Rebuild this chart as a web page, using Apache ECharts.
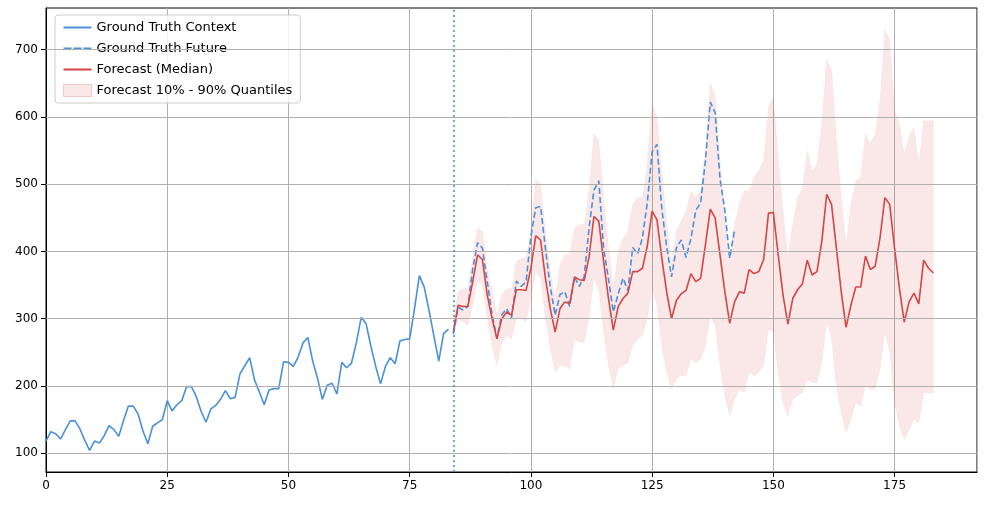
<!DOCTYPE html><html><head><meta charset="utf-8"><script src="https://cdn.jsdelivr.net/npm/echarts@6/dist/echarts.min.js"></script></head><body style="margin:0"><div id="c" style="width:986px;height:505px"></div><script>
const context=[118,132,129,121,135,148,148,136,119,104,118,115,126,141,135,125,149,170,170,158,133,114,140,145,150,178,163,172,178,199,199,184,162,146,166,171,180,193,181,183,218,230,242,209,191,172,194,196,196,236,235,229,243,264,272,237,211,180,201,204,188,235,227,234,264,302,293,259,229,203,229,242,233,267,269,270,315,364,347,312,274,237,278,284];
const future=[277,317,313,318,374,413,405,355,306,271,306,315,301,356,348,355,422,465,467,404,347,305,336,340,318,362,348,363,435,491,505,404,359,310,337,360,342,406,396,420,472,548,559,463,407,362,405,417,391,419,461,472,535,622,606,508,461,390,432];
const median=[280,320,318,318,355,395,388,335,300,270,300,310,305,343,343,342,375,423,417,360,315,280,315,325,322,362,358,357,392,452,445,385,330,283,318,330,338,370,370,375,408,460,447,390,340,300,327,337,342,367,355,360,410,463,450,395,340,293,325,340,338,373,367,370,388,457,458,395,335,292,330,343,352,387,365,370,415,485,470,405,340,287,320,347,347,393,373,378,420,480,470,405,345,295,325,338,322,387,375,368];
const upper=[300,340,345,345,390,435,430,375,340,305,335,345,345,385,390,390,430,508,500,430,370,330,380,395,395,435,440,440,490,575,565,480,405,345,400,420,430,470,480,480,530,620,600,520,445,380,430,445,460,490,480,490,555,650,630,535,450,390,440,470,490,490,510,520,535,615,630,540,460,390,440,480,495,550,520,530,590,685,670,570,480,410,470,505,510,575,560,575,625,730,715,610,590,545,570,585,530,595,593,595];
const lower=[275,300,295,290,320,355,350,300,260,230,265,275,270,300,300,295,330,370,360,300,255,220,230,230,225,270,265,265,300,360,340,280,230,195,225,230,235,260,270,275,300,345,320,260,220,195,210,215,215,240,235,240,260,305,290,230,185,155,180,195,190,220,215,220,230,285,280,220,175,155,180,185,190,210,205,205,235,295,270,200,160,130,150,175,170,200,195,195,225,280,250,175,140,120,135,150,145,190,190,190];
const yTicks=[100,200,300,400,500,600,700];
const ctxD=context.map((v,i)=>[i,v]), futD=future.map((v,i)=>[84+i,v]);
const bandD=upper.map((v,i)=>[84+i,lower[i],v]), medD=median.map((v,i)=>[84+i,v]);
const c=echarts.init(document.getElementById('c'));
const blue='#4a90d9',red='#d64545',band='rgba(214,69,69,0.12)';
c.setOption({animation:false,textStyle:{fontFamily:'DejaVu Sans'},
grid:{left:46,right:9,top:8,bottom:33,show:true,borderColor:'#000',borderWidth:1},
legend:{left:55,top:15,orient:'vertical',itemGap:8,itemWidth:28,itemHeight:12,padding:[6,8],borderColor:'#ccc',borderWidth:1,borderRadius:3,backgroundColor:'rgba(255,255,255,0.8)',textStyle:{fontSize:13,color:'#000'},
data:[{name:'Ground Truth Context',icon:'path://M0,5L28,5L28,7L0,7Z'},{name:'Ground Truth Future',icon:'path://M0,5L8,5L8,7L0,7ZM10,5L18,5L18,7L10,7ZM20,5L28,5L28,7L20,7Z'},{name:'Forecast (Median)',icon:'path://M0,5L28,5L28,7L0,7Z'},{name:'Forecast 10% - 90% Quantiles',icon:'rect',itemStyle:{color:band,borderColor:'rgba(214,69,69,0.25)',borderWidth:1}}]},
xAxis:{type:'value',min:0,max:192,interval:25,axisLine:{onZero:false,lineStyle:{color:'#000'}},axisTick:{lineStyle:{color:'#000'}},axisLabel:{color:'#000',fontSize:12,showMaxLabel:false},splitLine:{lineStyle:{color:'#b0b0b0'}}},
yAxis:{type:'value',min:72,max:762,axisLine:{show:true,lineStyle:{color:'#000'}},axisTick:{show:true,customValues:yTicks,lineStyle:{color:'#000'}},axisLabel:{color:'#000',fontSize:12,customValues:yTicks},splitLine:{show:false}},
series:[
{type:'line',name:'grid',data:[],markLine:{silent:true,symbol:'none',label:{show:false},lineStyle:{color:'#b0b0b0',type:'solid',width:1},data:yTicks.map(v=>({yAxis:v}))}},
{type:'custom',name:'Forecast 10% - 90% Quantiles',data:bandD,itemStyle:{color:band},z:1,encode:{x:0,y:[1,2]},
 renderItem:function(params,api){ if(params.dataIndex!==0) return null;
   const top=bandD.map(d=>api.coord([d[0],d[2]])), bot=bandD.map(d=>api.coord([d[0],d[1]])).reverse();
   return {type:'polygon',shape:{points:top.concat(bot)},style:{fill:band,stroke:'rgba(214,69,69,0.05)'}}; }},
{type:'line',name:'Ground Truth Context',data:ctxD,symbol:'none',lineStyle:{color:blue,width:1.6},itemStyle:{color:blue},z:3,
 markLine:{silent:true,symbol:'none',label:{show:false},lineStyle:{color:blue,type:[2,3],width:1.6},data:[{xAxis:84}]}},
{type:'line',name:'Ground Truth Future',data:futD,symbol:'none',lineStyle:{color:blue,width:1.6,type:[6,3]},itemStyle:{color:blue},z:3},
{type:'line',name:'Forecast (Median)',data:medD,symbol:'none',lineStyle:{color:red,width:1.6},itemStyle:{color:red},z:4}
]});
</script></body></html>
